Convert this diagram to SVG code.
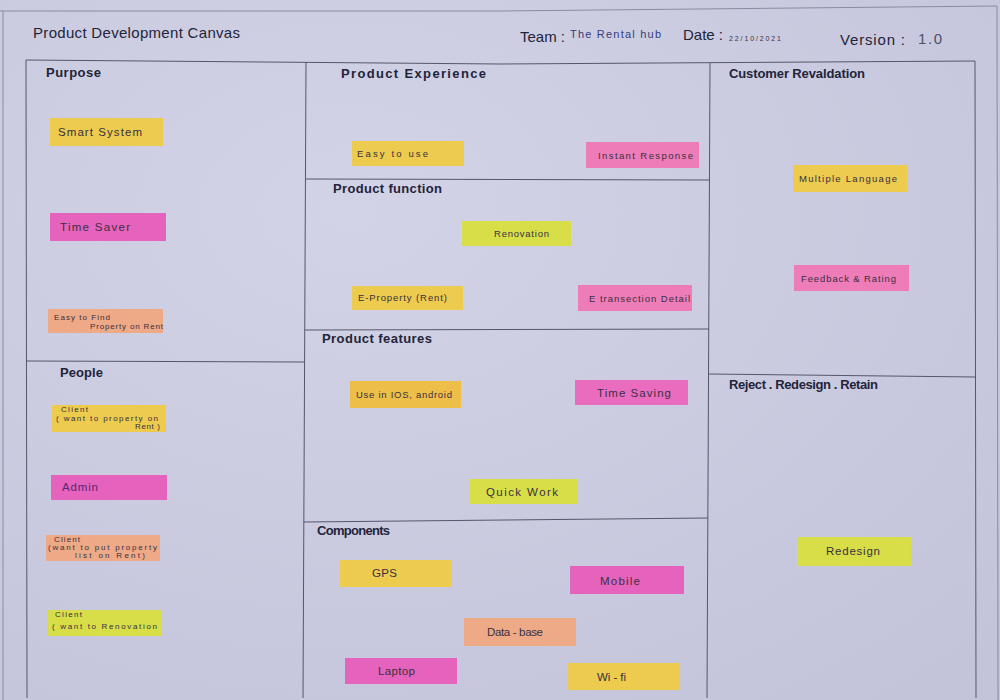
<svg xmlns="http://www.w3.org/2000/svg" width="1000" height="700" viewBox="0 0 1000 700">
  <defs>
    <radialGradient id="paper" cx="0.35" cy="0.3" r="0.9">
      <stop offset="0" stop-color="#d2d3e6"/>
      <stop offset="1" stop-color="#c3c4da"/>
    </radialGradient>
    <style>
      .grid { fill: none; stroke: #55566c; stroke-width: 1; }
      .title { font-family: "Liberation Sans", "DejaVu Sans", sans-serif; font-size: 15px; fill: #23243a; }
      .head { font-family: "Liberation Sans", "DejaVu Sans", sans-serif; font-size: 13px; font-weight: bold; fill: #23243a; }
      .note-text { font-family: "Liberation Sans", "DejaVu Sans", sans-serif; font-size: 11.5px; fill: #3a3040; }
      .small { font-family: "Liberation Sans", "DejaVu Sans", sans-serif; font-size: 9.5px; fill: #3a3040; }
      .tiny { font-family: "Liberation Sans", "DejaVu Sans", sans-serif; font-size: 8px; fill: #3a3040; }
      .yellow { fill: #eccb4e; }
      .lime { fill: #d7de48; }
      .magenta { fill: #e563bd; }
      .pink { fill: #ee7cb9; }
      .peach { fill: #eea987; }
    </style>
  </defs>

  <!-- paper sheet -->
  <rect x="0" y="0" width="1000" height="700" fill="url(#paper)"/>
  <path class="grid" d="M0 11 L500 11 L997 6 L998 700" style="stroke:#8a8ba0"/>
  <path class="grid" d="M3 11 L3 700" style="stroke:#8a8ba0"/>

  <!-- canvas grid -->
  <g id="grid">
    <path class="grid" d="M26 60 L500 64 L975 61 L976 698"/>
    <path class="grid" d="M26 60 L27 698"/>
    <path class="grid" d="M306 62 L303 698"/>
    <path class="grid" d="M710 63 L707 698"/>
    <path class="grid" d="M26 361 L305 362"/>
    <path class="grid" d="M306 179 L709 180"/>
    <path class="grid" d="M305 330 L709 329"/>
    <path class="grid" d="M304 522 L708 518"/>
    <path class="grid" d="M709 374 L976 377"/>
  </g>

  <!-- header -->
  <g id="header">
    <text class="title" x="33" y="38" textLength="207" lengthAdjust="spacing">Product  Development  Canvas</text>
    <text class="title" x="520" y="42">Team :</text>
    <text class="title" x="570" y="38" style="font-size:11px; fill:#34407e" textLength="91" lengthAdjust="spacing">The Rental hub</text>
    <text class="title" x="683" y="40">Date :</text>
    <text class="tiny" x="729" y="41" style="font-size:7px" textLength="52" lengthAdjust="spacing">22/10/2021</text>
    <text class="title" x="840" y="45" textLength="65" lengthAdjust="spacing">Version :</text>
    <text class="title" x="918" y="44" style="fill:#4b5068" textLength="24" lengthAdjust="spacing">1.0</text>
  </g>

  <!-- section headings -->
  <g id="headings">
    <text class="head" x="46" y="77" textLength="55" lengthAdjust="spacing">Purpose</text>
    <text class="head" x="341" y="78" textLength="145" lengthAdjust="spacing">Product  Experience</text>
    <text class="head" x="729" y="78" textLength="136" lengthAdjust="spacing">Customer  Revaldation</text>
    <text class="head" x="333" y="193" textLength="109" lengthAdjust="spacing">Product  function</text>
    <text class="head" x="322" y="343" textLength="110" lengthAdjust="spacing">Product  features</text>
    <text class="head" x="60" y="377" textLength="43" lengthAdjust="spacing">People</text>
    <text class="head" x="317" y="535" textLength="73" lengthAdjust="spacing">Components</text>
    <text class="head" x="729" y="389" textLength="149" lengthAdjust="spacing">Reject . Redesign . Retain</text>
  </g>

  <!-- Purpose -->
  <g id="smart-system">
    <rect class="yellow" x="50" y="118" width="113" height="28"/>
    <text class="note-text" x="58" y="136" textLength="84" lengthAdjust="spacing">Smart  System</text>
  </g>
  <g id="time-saver">
    <rect class="magenta" x="50" y="213" width="116" height="28"/>
    <text class="note-text" x="60" y="231" textLength="70" lengthAdjust="spacing">Time  Saver</text>
  </g>
  <g id="easy-to-find">
    <rect class="peach" x="48" y="309" width="115" height="24"/>
    <text class="tiny" x="54" y="320" textLength="56" lengthAdjust="spacing">Easy  to  Find</text>
    <text class="tiny" x="90" y="329" textLength="73" lengthAdjust="spacing">Property on Rent</text>
  </g>

  <!-- People -->
  <g id="client-rent">
    <rect class="yellow" x="52" y="405" width="114" height="27"/>
    <text class="tiny" x="61" y="412" textLength="27" lengthAdjust="spacing">Client</text>
    <text class="tiny" x="56" y="421" textLength="102" lengthAdjust="spacing">( want to property on</text>
    <text class="tiny" x="135" y="429" textLength="25" lengthAdjust="spacing">Rent )</text>
  </g>
  <g id="admin">
    <rect class="magenta" x="51" y="475" width="116" height="25"/>
    <text class="note-text" x="62" y="491" style="fill:#5a2570" textLength="36" lengthAdjust="spacing">Admin</text>
  </g>
  <g id="client-list">
    <rect class="peach" x="46" y="535" width="114" height="26"/>
    <text class="tiny" x="54" y="542" textLength="26" lengthAdjust="spacing">Client</text>
    <text class="tiny" x="48" y="550" textLength="109" lengthAdjust="spacing">(want to put property</text>
    <text class="tiny" x="75" y="558" textLength="70" lengthAdjust="spacing">list on Rent)</text>
  </g>
  <g id="client-renovation">
    <rect class="lime" x="47" y="610" width="114" height="26"/>
    <text class="tiny" x="55" y="617" textLength="27" lengthAdjust="spacing">Client</text>
    <text class="tiny" x="52" y="629" textLength="105" lengthAdjust="spacing">( want to Renovation</text>
  </g>

  <!-- Product Experience -->
  <g id="easy-to-use">
    <rect class="yellow" x="352" y="141" width="112" height="25"/>
    <text class="small" x="357" y="157" textLength="71" lengthAdjust="spacing">Easy  to  use</text>
  </g>
  <g id="instant-response">
    <rect class="pink" x="586" y="142" width="113" height="26"/>
    <text class="small" x="598" y="159" textLength="95" lengthAdjust="spacing">Instant  Response</text>
  </g>

  <!-- Product function -->
  <g id="renovation">
    <rect class="lime" x="462" y="221" width="109" height="25"/>
    <text class="small" x="494" y="237" textLength="55" lengthAdjust="spacing">Renovation</text>
  </g>
  <g id="e-property">
    <rect class="yellow" x="352" y="286" width="111" height="24"/>
    <text class="small" x="358" y="301" textLength="89" lengthAdjust="spacing">E-Property (Rent)</text>
  </g>
  <g id="e-transaction">
    <rect class="pink" x="578" y="285" width="114" height="26"/>
    <text class="small" x="589" y="302" textLength="101" lengthAdjust="spacing">E transection Detail</text>
  </g>

  <!-- Product features -->
  <g id="ios-android">
    <rect x="350" y="381" width="111" height="27" fill="#eebf48"/>
    <text class="small" x="356" y="398" textLength="96" lengthAdjust="spacing">Use in IOS, android</text>
  </g>
  <g id="time-saving">
    <rect x="575" y="380" width="113" height="25" fill="#ea6cbf"/>
    <text class="note-text" x="597" y="397" textLength="74" lengthAdjust="spacing">Time  Saving</text>
  </g>
  <g id="quick-work">
    <rect class="lime" x="470" y="479" width="108" height="25"/>
    <text class="note-text" x="486" y="496" textLength="72" lengthAdjust="spacing">Quick  Work</text>
  </g>

  <!-- Components -->
  <g id="gps">
    <rect class="yellow" x="340" y="560" width="112" height="27"/>
    <text class="note-text" x="372" y="577" textLength="25" lengthAdjust="spacing">GPS</text>
  </g>
  <g id="mobile">
    <rect class="magenta" x="570" y="566" width="114" height="28"/>
    <text class="note-text" x="600" y="585" textLength="40" lengthAdjust="spacing">Mobile</text>
  </g>
  <g id="database">
    <rect class="peach" x="464" y="618" width="112" height="28"/>
    <text class="note-text" x="487" y="636" textLength="56" lengthAdjust="spacing">Data - base</text>
  </g>
  <g id="laptop">
    <rect class="magenta" x="345" y="658" width="112" height="26"/>
    <text class="note-text" x="378" y="675" textLength="37" lengthAdjust="spacing">Laptop</text>
  </g>
  <g id="wifi">
    <rect class="yellow" x="568" y="663" width="112" height="27"/>
    <text class="note-text" x="597" y="681" textLength="29" lengthAdjust="spacing">Wi - fi</text>
  </g>

  <!-- Customer Revaldation -->
  <g id="multiple-language">
    <rect class="yellow" x="793" y="165" width="114" height="27"/>
    <text class="small" x="799" y="182" textLength="98" lengthAdjust="spacing">Multiple  Language</text>
  </g>
  <g id="feedback-rating">
    <rect class="pink" x="794" y="265" width="115" height="26"/>
    <text class="small" x="801" y="282" textLength="95" lengthAdjust="spacing">Feedback &amp; Rating</text>
  </g>

  <!-- Reject . Redesign . Retain -->
  <g id="redesign">
    <rect class="lime" x="797" y="537" width="114" height="29"/>
    <text class="note-text" x="826" y="555" textLength="54" lengthAdjust="spacing">Redesign</text>
  </g>
</svg>
